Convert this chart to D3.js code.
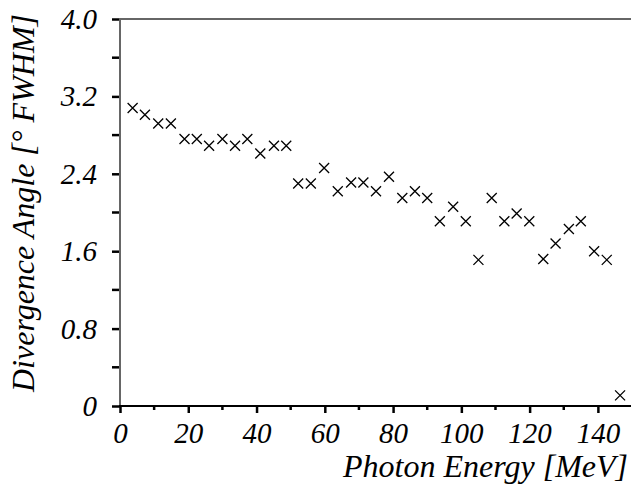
<!DOCTYPE html>
<html>
<head>
<meta charset="utf-8">
<script src="https://cdn.jsdelivr.net/npm/d3@7"></script>
</head>
<body style="margin:0">
<script>
// photon energy [MeV]
var energy = [3.7, 7.3, 11.2, 14.9, 18.9, 22.5, 26.1, 30.0, 33.7, 37.3, 41.1, 45.1, 48.7,
	52.2, 55.9, 59.8, 63.8, 67.7, 71.3, 75.0, 78.8, 82.7, 86.4, 90.0, 93.7, 97.6, 101.3,
	105.0, 108.9, 112.6, 116.2, 119.9, 124.0, 127.6, 131.5, 135.0, 138.9, 142.6, 146.5];
// divergence angle [deg FWHM]
var angle = [3.08, 3.01, 2.92, 2.92, 2.76, 2.76, 2.69, 2.76, 2.69, 2.76, 2.61, 2.69, 2.69,
	2.30, 2.30, 2.46, 2.22, 2.31, 2.31, 2.22, 2.37, 2.15, 2.22, 2.15, 1.91, 2.06, 1.91,
	1.51, 2.15, 1.91, 1.99, 1.91, 1.52, 1.68, 1.83, 1.91, 1.60, 1.51, 0.11];
var xTicks = [0, 20, 40, 60, 80, 100, 120, 140];
var xMinorTicks = [10, 30, 50, 70, 90, 110, 130];
var yTicks = [0, 0.8, 1.6, 2.4, 3.2, 4.0];
var yMinorTicks = [0.4, 1.2, 2.0, 2.8, 3.6];
var yTickLabels = ["0", "0.8", "1.6", "2.4", "3.2", "4.0"];

var width = 631;
var height = 485;
var margin = { top: 19, right: 0, bottom: 79, left: 120 };

var svg = d3.select("body").append("svg")
	.attr("width", width)
	.attr("height", height);

var x = d3.scaleLinear().domain([0, 149.7]).range([margin.left, width - margin.right]);
var y = d3.scaleLinear().domain([0, 4.0]).range([height - margin.bottom, margin.top]);

// italic serif text helper
function serifText(sel, size) {
	return sel
		.attr("font-family", "Liberation Serif")
		.style("font-family", "'Liberation Serif'")
		.style("font-style", "italic")
		.style("font-size", size + "px");
}

// top frame line
svg.append("line")
	.attr("x1", margin.left).attr("x2", width)
	.attr("y1", y(4.0)).attr("y2", y(4.0))
	.attr("stroke", "#666").attr("stroke-width", 2);

// Y axis
var yAxis = svg.append("g")
	.attr("transform", `translate(${margin.left}, 0)`)
	.call(d3.axisLeft(y).tickValues(yTicks).tickSize(8).tickPadding(15)
		.tickFormat((d, i) => yTickLabels[i]));
yAxis.attr("font-family", "Liberation Serif");
yAxis.select(".domain").remove();
yAxis.selectAll(".tick line").attr("stroke", "#000").attr("stroke-width", 2.5);
serifText(yAxis.selectAll("text"), 29).attr("dy", "0.33em");
svg.append("g")
	.attr("transform", `translate(${margin.left}, 0)`)
	.selectAll("line")
	.data(yMinorTicks)
	.join("line")
	.attr("x1", -8).attr("x2", 0)
	.attr("y1", (d) => y(d)).attr("y2", (d) => y(d))
	.attr("stroke", "#000").attr("stroke-width", 2.5);
svg.append("line")
	.attr("x1", margin.left).attr("x2", margin.left)
	.attr("y1", y(4.0) - 1).attr("y2", y(0))
	.attr("stroke", "#666").attr("stroke-width", 2);

// X axis
var xAxis = svg.append("g")
	.attr("transform", `translate(0, ${y(0)})`)
	.call(d3.axisBottom(x).tickValues(xTicks).tickSize(7)
		.tickFormat(d3.format("d")));
xAxis.attr("font-family", "Liberation Serif");
xAxis.select(".domain").remove();
xAxis.selectAll(".tick line").attr("stroke", "#000").attr("stroke-width", 2.5);
serifText(xAxis.selectAll("text"), 29).attr("y", 37).attr("dy", 0);
svg.append("g")
	.attr("transform", `translate(0, ${y(0)})`)
	.selectAll("line")
	.data(xMinorTicks)
	.join("line")
	.attr("x1", (d) => x(d)).attr("x2", (d) => x(d))
	.attr("y1", 0).attr("y2", 4)
	.attr("stroke", "#000").attr("stroke-width", 2.5);
svg.append("line")
	.attr("x1", margin.left - 1).attr("x2", width)
	.attr("y1", y(0)).attr("y2", y(0))
	.attr("stroke", "#000").attr("stroke-width", 2);

// axis labels
serifText(svg.append("text"), 32)
	.attr("x", 628)
	.attr("y", 477)
	.attr("text-anchor", "end")
	.text("Photon Energy [MeV]");

serifText(svg.append("text"), 32)
	.attr("transform", `translate(34, 203) rotate(-90)`)
	.attr("text-anchor", "middle")
	.text("Divergence Angle [\u00B0 FWHM]");

// cross markers
var s = 5;
var pts = energy.map((d, i) => ({ e: d, a: angle[i] }));
svg.append("g")
	.selectAll("path")
	.data(pts)
	.join("path")
	.attr("d", (d) => {
		var cx = x(d.e), cy = y(d.a);
		return `M${cx - s},${cy - s}L${cx + s},${cy + s}M${cx - s},${cy + s}L${cx + s},${cy - s}`;
	})
	.attr("stroke", "#000")
	.attr("stroke-width", 1.3)
	.attr("fill", "none");
</script>
</body>
</html>
